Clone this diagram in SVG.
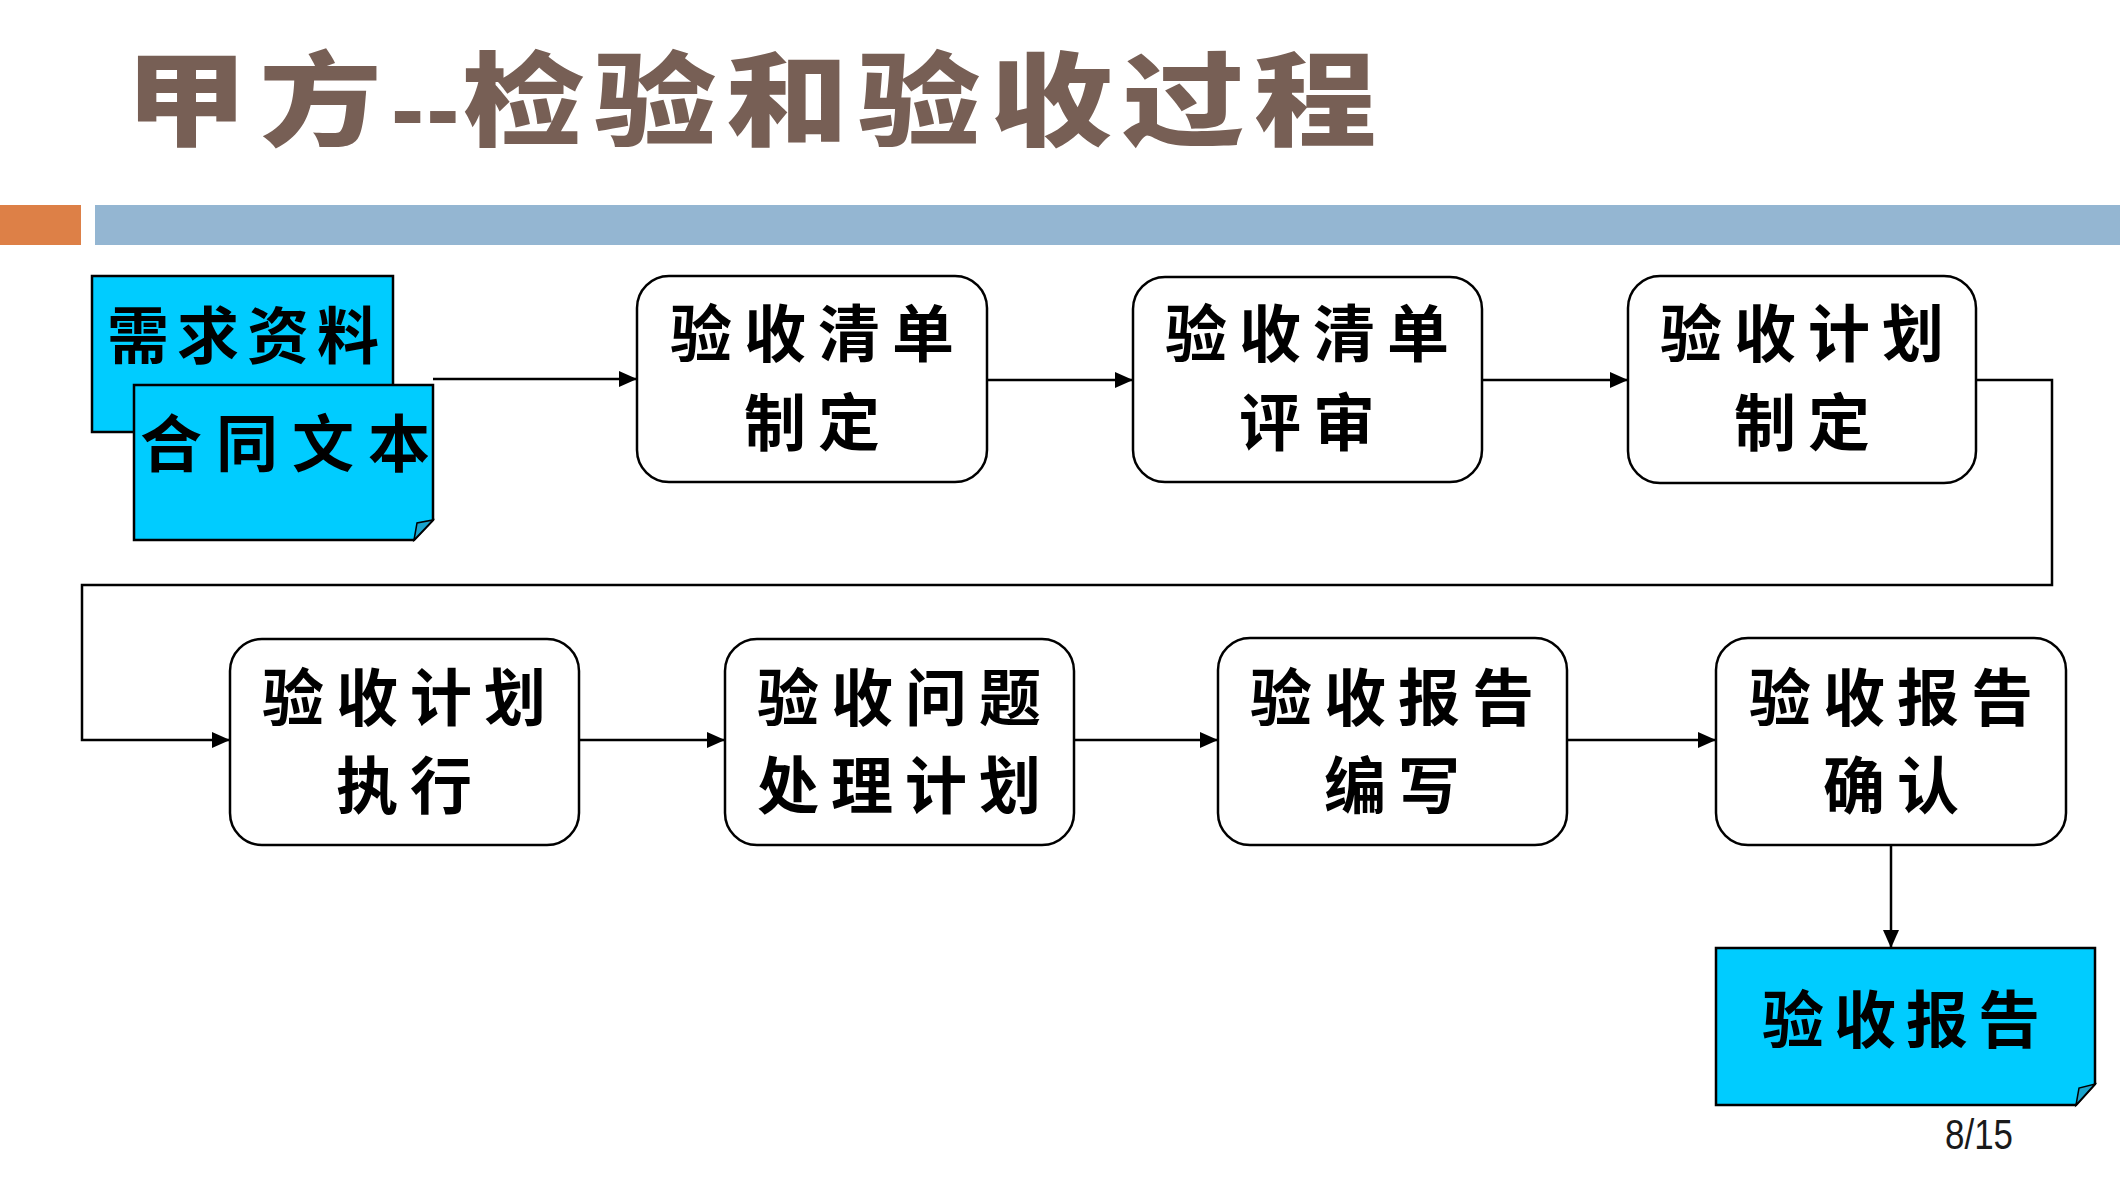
<svg xmlns="http://www.w3.org/2000/svg" width="2120" height="1178" viewBox="0 0 2120 1178">
  <style>
    .box { fill: #ffffff; stroke: #000000; stroke-width: 2.5; }
    .doc { fill: #00CCFF; stroke: #000000; stroke-width: 2.5; stroke-linejoin: miter; }
    .fold { fill: #1AA3CC; stroke: #000000; stroke-width: 1.5; }
    .lbl { font-family: "Noto Sans CJK SC", "Noto Sans CJK TC", sans-serif; font-weight: 700; font-size: 62px; fill: #000000; text-anchor: middle; letter-spacing: 12px; }
    .conn { fill: none; stroke: #000000; stroke-width: 2.5; }
    .title { font-family: "Noto Sans CJK SC", sans-serif; font-weight: 900; font-size: 102px; fill: #775F55; }
  </style>
  <defs>
    <marker id="arr" viewBox="0 0 18 16" refX="18" refY="8" markerWidth="18" markerHeight="16" markerUnits="userSpaceOnUse" orient="auto">
      <path d="M0,0 L18,8 L0,16 Z" fill="#000000"/>
    </marker>
  </defs>
  <rect x="0" y="0" width="2120" height="1178" fill="#ffffff"/>

  <g id="title">
    <text class="title" transform="scale(1.2,1)" y="138"><tspan x="104">甲</tspan><tspan x="216">方</tspan></text>
    <text x="391" y="143" font-family="Liberation Sans, Arial, sans-serif" font-weight="700" font-size="100" fill="#775F55" letter-spacing="2">--</text>
    <text class="title" transform="scale(1.2,1)" y="138"><tspan x="385">检</tspan><tspan x="495">验</tspan><tspan x="605">和</tspan><tspan x="715">验</tspan><tspan x="825">收</tspan><tspan x="935">过</tspan><tspan x="1045">程</tspan></text>
  </g>
  <g id="header-bars">
    <rect x="0" y="205" width="81" height="40" fill="#DD8047"/>
    <rect x="95" y="205" width="2025" height="40" fill="#94B6D2"/>
  </g>

  <g id="connectors">
    <path class="conn" d="M433,379 H637" marker-end="url(#arr)"/>
    <path class="conn" d="M987,380 H1133" marker-end="url(#arr)"/>
    <path class="conn" d="M1482,380 H1628" marker-end="url(#arr)"/>
    <path class="conn" d="M1976,380 H2052 V585 H82 V740 H230" marker-end="url(#arr)"/>
    <path class="conn" d="M579,740 H725" marker-end="url(#arr)"/>
    <path class="conn" d="M1074,740 H1218" marker-end="url(#arr)"/>
    <path class="conn" d="M1567,740 H1716" marker-end="url(#arr)"/>
    <path class="conn" d="M1891,845 V948" marker-end="url(#arr)"/>
  </g>

  <g id="doc-requirements">
    <rect class="doc" x="92" y="276" width="301" height="156"/>
    <text class="lbl" x="247" y="359" style="letter-spacing:8px">需求资料</text>
  </g>
  <g id="doc-contract">
    <path class="doc" d="M134,385 H433 V520 L414,540 H134 Z"/>
    <path class="fold" d="M414,540 L417,523 L433,520 Z"/>
    <text class="lbl" x="292" y="467" style="letter-spacing:14px">合同文本</text>
  </g>

  <g id="box-checklist-make">
    <rect class="box" x="637" y="276" width="350" height="206" rx="32" ry="32"/>
    <text class="lbl" x="818" y="357">验收清单</text>
    <text class="lbl" x="818" y="446">制定</text>
  </g>
  <g id="box-checklist-review">
    <rect class="box" x="1133" y="277" width="349" height="205" rx="32" ry="32"/>
    <text class="lbl" x="1313" y="357">验收清单</text>
    <text class="lbl" x="1313" y="446">评审</text>
  </g>
  <g id="box-plan-make">
    <rect class="box" x="1628" y="276" width="348" height="207" rx="32" ry="32"/>
    <text class="lbl" x="1808" y="357">验收计划</text>
    <text class="lbl" x="1808" y="446">制定</text>
  </g>

  <g id="box-plan-exec">
    <rect class="box" x="230" y="639" width="349" height="206" rx="32" ry="32"/>
    <text class="lbl" x="410" y="721">验收计划</text>
    <text class="lbl" x="410" y="809">执行</text>
  </g>
  <g id="box-issue-plan">
    <rect class="box" x="725" y="639" width="349" height="206" rx="32" ry="32"/>
    <text class="lbl" x="905" y="721">验收问题</text>
    <text class="lbl" x="905" y="809">处理计划</text>
  </g>
  <g id="box-report-write">
    <rect class="box" x="1218" y="638" width="349" height="207" rx="32" ry="32"/>
    <text class="lbl" x="1398" y="721">验收报告</text>
    <text class="lbl" x="1398" y="809">编写</text>
  </g>
  <g id="box-report-confirm">
    <rect class="box" x="1716" y="638" width="350" height="207" rx="32" ry="32"/>
    <text class="lbl" x="1897" y="721">验收报告</text>
    <text class="lbl" x="1897" y="809">确认</text>
  </g>

  <g id="doc-report">
    <path class="doc" d="M1716,948 H2095 V1084 L2076,1105 H1716 Z"/>
    <path class="fold" d="M2076,1105 L2079,1088 L2095,1084 Z"/>
    <text class="lbl" x="1906" y="1043" style="letter-spacing:10px">验收报告</text>
  </g>

  <g id="page-number">
    <text x="1945" y="1149" font-family="Liberation Sans, Arial, sans-serif" font-size="42" fill="#1a1a1a" textLength="68" lengthAdjust="spacingAndGlyphs">8/15</text>
  </g>
</svg>
